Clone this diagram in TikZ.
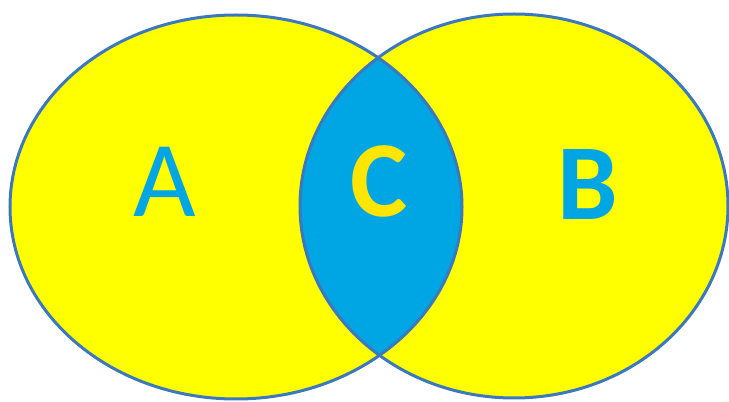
\documentclass[tikz,border=0pt]{standalone}
\usepackage{fontspec}
\setmainfont{Carlito}
\usepackage{xcolor}
\usepackage{tikz}

\definecolor{vennyellow}{HTML}{FFFF00}
\definecolor{vennblue}{HTML}{00A5E3}
\definecolor{vennedge}{HTML}{3C78BE}
\definecolor{letteryellow}{HTML}{FFE600}

\begin{document}
\begin{tikzpicture}[
  x=1pt, y=1pt,
  setedge/.style={draw=vennedge, line width=3pt},
  letter/.style={anchor=base, inner sep=0pt, font=\fontsize{108}{108}\selectfont}
]
  \useasboundingbox (0,0) rectangle (729,402);

  % Sets
  \fill[vennyellow] (236,195) ellipse [x radius=226, y radius=192];
  \fill[vennyellow] (514,196) ellipse [x radius=214, y radius=192];

  % Intersection
  \begin{scope}
    \clip (236,195) ellipse [x radius=226, y radius=192];
    \fill[vennblue] (514,196) ellipse [x radius=214, y radius=192];
  \end{scope}

  % Outlines
  \draw[setedge] (236,195) ellipse [x radius=226, y radius=192];
  \draw[setedge] (514,196) ellipse [x radius=214, y radius=192];

  % Labels
  \node[letter, text=vennblue] (setA) at (165,185) {A};
  \node[letter, text=letteryellow, font=\fontsize{108}{108}\selectfont\bfseries] (setC) at (379,185) {C};
  \node[letter, text=vennblue, font=\fontsize{108}{108}\selectfont\bfseries] (setB) at (588,182) {B};
\end{tikzpicture}
\end{document}
